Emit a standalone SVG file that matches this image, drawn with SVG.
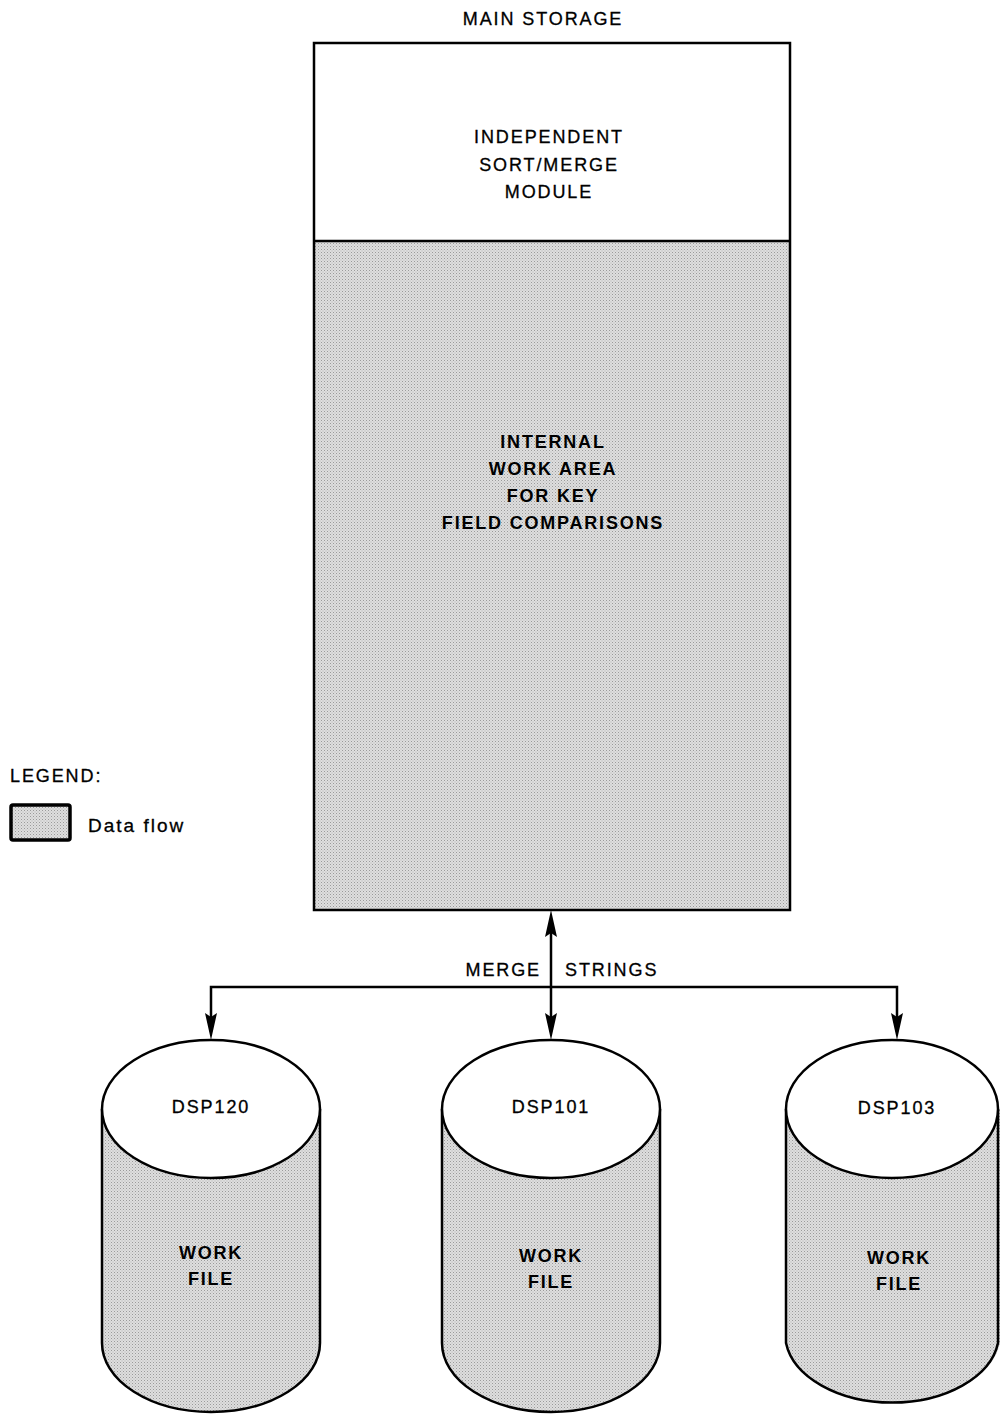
<svg xmlns="http://www.w3.org/2000/svg" width="1000" height="1414" viewBox="0 0 1000 1414">
<defs>
<pattern id="dots" width="3" height="3" patternUnits="userSpaceOnUse">
<rect width="3" height="3" fill="#dedede"/>
<rect x="0" y="0" width="1" height="1" fill="#9a9a9a"/>
<rect x="1.5" y="1.5" width="1" height="1" fill="#b4b4b4"/>
</pattern>
</defs>
<style>
.t{font-family:"Liberation Sans",Arial,sans-serif;font-size:18px;fill:#000;letter-spacing:1.9px;stroke:#000;stroke-width:0.3px}
.b{font-family:"Liberation Sans",Arial,sans-serif;font-size:18px;font-weight:bold;fill:#000;letter-spacing:1.8px}
.ln{fill:none;stroke:#000;stroke-width:2.5}
.top{fill:#fff;stroke:#000;stroke-width:2.5}
.shade{fill:url(#dots)}
.ah{fill:#000;stroke:none}
</style>
<rect width="1000" height="1414" fill="#fff"/>

<g id="main-storage">
<text class="t" x="543" y="25" text-anchor="middle">MAIN STORAGE</text>
<rect x="314" y="43" width="476" height="198" fill="#fff"/>
<rect class="shade" x="314" y="241" width="476" height="669"/>
<rect class="ln" x="314" y="43" width="476" height="867"/>
<line class="ln" x1="314" y1="241" x2="790" y2="241"/>
</g>

<g id="sort-merge-module">
<text class="t" x="549" y="143" text-anchor="middle">INDEPENDENT</text>
<text class="t" x="549" y="171" text-anchor="middle">SORT/MERGE</text>
<text class="t" x="549" y="198" text-anchor="middle">MODULE</text>
</g>

<g id="internal-work-area">
<text class="b" x="553" y="448" text-anchor="middle">INTERNAL</text>
<text class="b" x="553" y="475" text-anchor="middle">WORK AREA</text>
<text class="b" x="553" y="502" text-anchor="middle">FOR KEY</text>
<text class="b" x="553" y="529" text-anchor="middle">FIELD COMPARISONS</text>
</g>

<g id="legend">
<text class="t" x="10" y="782">LEGEND:</text>
<rect class="shade" x="11" y="805" width="59" height="35" rx="2" stroke="#000" stroke-width="3.5"/>
<text class="t" x="88" y="832" style="font-size:19px;letter-spacing:2px">Data flow</text>
</g>

<g id="connectors">
<line class="ln" x1="551" y1="920" x2="551" y2="1030"/>
<polyline class="ln" points="211,1030 211,987 897,987 897,1030"/>
<path class="ah" d="M551,910 L557,937 L551,933 L545,937 Z"/>
<path class="ah" d="M551,1040 L557,1013 L551,1017 L545,1013 Z"/>
<path class="ah" d="M211,1040 L217,1013 L211,1017 L205,1013 Z"/>
<path class="ah" d="M897,1040 L903,1013 L897,1017 L891,1013 Z"/>
<text class="t" x="541" y="976" text-anchor="end">MERGE</text>
<text class="t" x="565" y="976">STRINGS</text>
</g>

<g id="dsp120">
<path class="shade" d="M102,1109 L102,1343 A109,69 0 0 0 320,1343 L320,1109 Z"/>
<path class="ln" d="M102,1109 L102,1343 A109,69 0 0 0 320,1343 L320,1109"/>
<ellipse class="top" cx="211" cy="1109" rx="109" ry="69"/>
<text class="t" x="211" y="1113" text-anchor="middle">DSP120</text>
<text class="b" x="211" y="1259" text-anchor="middle">WORK</text>
<text class="b" x="211" y="1285" text-anchor="middle">FILE</text>
</g>

<g id="dsp101">
<path class="shade" d="M442,1109 L442,1343 A109,69 0 0 0 660,1343 L660,1109 Z"/>
<path class="ln" d="M442,1109 L442,1343 A109,69 0 0 0 660,1343 L660,1109"/>
<ellipse class="top" cx="551" cy="1109" rx="109" ry="69"/>
<text class="t" x="551" y="1113" text-anchor="middle">DSP101</text>
<text class="b" x="551" y="1262" text-anchor="middle">WORK</text>
<text class="b" x="551" y="1288" text-anchor="middle">FILE</text>
</g>

<g id="dsp103">
<path class="shade" d="M786,1109 L786,1343 A108,69 0 0 0 1000,1343 L1000,1109 Z"/>
<path class="ln" d="M786,1109 L786,1343 A107,69 0 0 0 998,1343 L998,1109"/>
<ellipse class="top" cx="892" cy="1109" rx="106" ry="69"/>
<text class="t" x="897" y="1114" text-anchor="middle">DSP103</text>
<text class="b" x="899" y="1264" text-anchor="middle">WORK</text>
<text class="b" x="899" y="1290" text-anchor="middle">FILE</text>
</g>
</svg>
